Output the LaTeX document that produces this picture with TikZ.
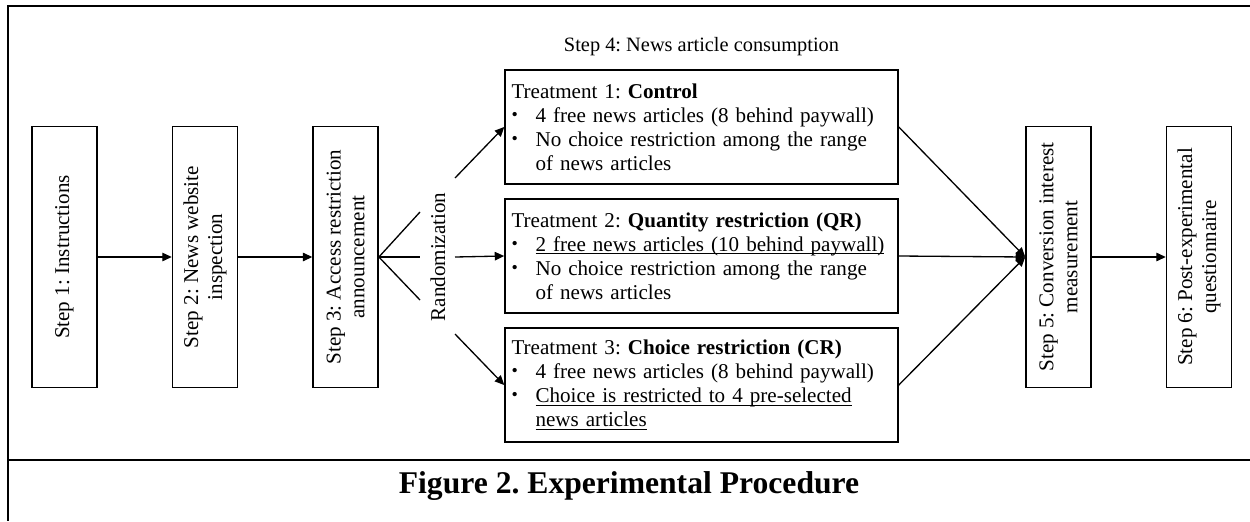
\documentclass[tikz,border=0pt]{standalone}
\usepackage{fontspec}
\setmainfont{Liberation Serif}
\usepackage{graphicx}
\usepackage{tikz}
\usetikzlibrary{arrows.meta,positioning}
\frenchspacing

\newcommand{\stepfont}{\fontsize{12}{13.6}\selectfont}
\newcommand{\vtext}[1]{\rotatebox{90}{\parbox{5cm}{\centering #1}}}
\newcommand{\tbul}{\makebox[0.48cm][l]{\raisebox{0.08em}{\scalebox{0.85}{\textbullet}}}}
\newcommand{\tind}{\hspace*{0.48cm}}
\newcommand{\uln}[1]{\underline{\smash{#1}}}

\tikzset{
  stepbox/.style={
    draw=black,
    line width=0.9pt,
    minimum width=1.3cm,
    minimum height=5.22cm,
    inner sep=0pt,
    font=\stepfont
  },
  treatbox/.style={
    draw=black,
    line width=0.9pt,
    text width=7.6cm,
    minimum height=2.28cm,
    align=left,
    inner sep=0.13cm,
    font=\stepfont
  },
  flowarrow/.style={
    -{Triangle[length=0.19cm,width=0.17cm]},
    line width=0.75pt
  },
  flowline/.style={
    line width=0.75pt
  },
  frameline/.style={
    line width=0.9pt
  }
}

\begin{document}
\begin{tikzpicture}[x=0.02cm, y=-0.02cm]
    \useasboundingbox (0,0) rectangle (1250,521);

    % frame and caption
    \draw[frameline] (1250,6) -- (8,6) -- (8,521);
    \draw[frameline] (8,460) -- (1250,460);
    \node[anchor=base, font=\fontsize{18}{20}\selectfont\bfseries] (caption) at (629,493) {Figure 2. Experimental Procedure};

    % steps 1--3
    \node[stepbox] (s1) at (64.5,257) {\vtext{Step 1: Instructions}};
    \node[stepbox, right=1.48cm of s1] (s2) {\vtext{Step 2: News website\\ inspection}};
    \node[stepbox, right=1.48cm of s2] (s3) {\vtext{Step 3: Access restriction\\ announcement}};

    % randomization
    \node[rotate=90, font=\stepfont] (rand) at (438,257) {Randomization};
    \coordinate (f1) at (420,212);
    \coordinate (f2) at (420,257);
    \coordinate (f3) at (420,300);
    \coordinate (r1) at (455,178);
    \coordinate (r2) at (455,257);
    \coordinate (r3) at (455,334);

    % step 4: treatments
    \node[treatbox] (t2) at (701.5,256) {
        Treatment 2: \textbf{Quantity restriction (QR)}\\
        \tbul\uln{2 free news articles (10 behind paywall)}\\
        \tbul No choice restriction among the range\\
        \tind of news articles
    };
    \node[treatbox, above=0.27cm of t2] (t1) {
        Treatment 1: \textbf{Control}\\
        \tbul 4 free news articles (8 behind paywall)\\
        \tbul No choice restriction among the range\\
        \tind of news articles
    };
    \node[treatbox, below=0.27cm of t2] (t3) {
        Treatment 3: \textbf{Choice restriction (CR)}\\
        \tbul 4 free news articles (8 behind paywall)\\
        \tbul\uln{Choice is restricted to 4 pre-selected}\\
        \tind\uln{news articles}
    };
    \node[above=0.15cm of t1, font=\fontsize{11.6}{13}\selectfont] (lab4) {Step 4: News article consumption};

    % steps 5--6
    \node[stepbox] (s5) at (1058.5,257) {\vtext{Step 5: Conversion interest\\ measurement}};
    \node[stepbox, right=1.48cm of s5] (s6) {\vtext{Step 6: Post-experimental\\ questionnaire}};

    \draw[flowarrow] (s1) -- (s2);
    \draw[flowarrow] (s2) -- (s3);
    \draw[flowline] (f1) -- (s3.east) -- (f3);
    \draw[flowline] (s3.east) -- (f2);
    \draw[flowarrow] (r1) -- (t1.west);
    \draw[flowarrow] (r2) -- (t2.west);
    \draw[flowarrow] (r3) -- (t3.west);
    \draw[flowarrow] (t1.east) -- (s5.west);
    \draw[flowarrow] (t2.east) -- (s5.west);
    \draw[flowarrow] (t3.east) -- (s5.west);
    \draw[flowarrow] (s5) -- (s6);
\end{tikzpicture}
\end{document}
